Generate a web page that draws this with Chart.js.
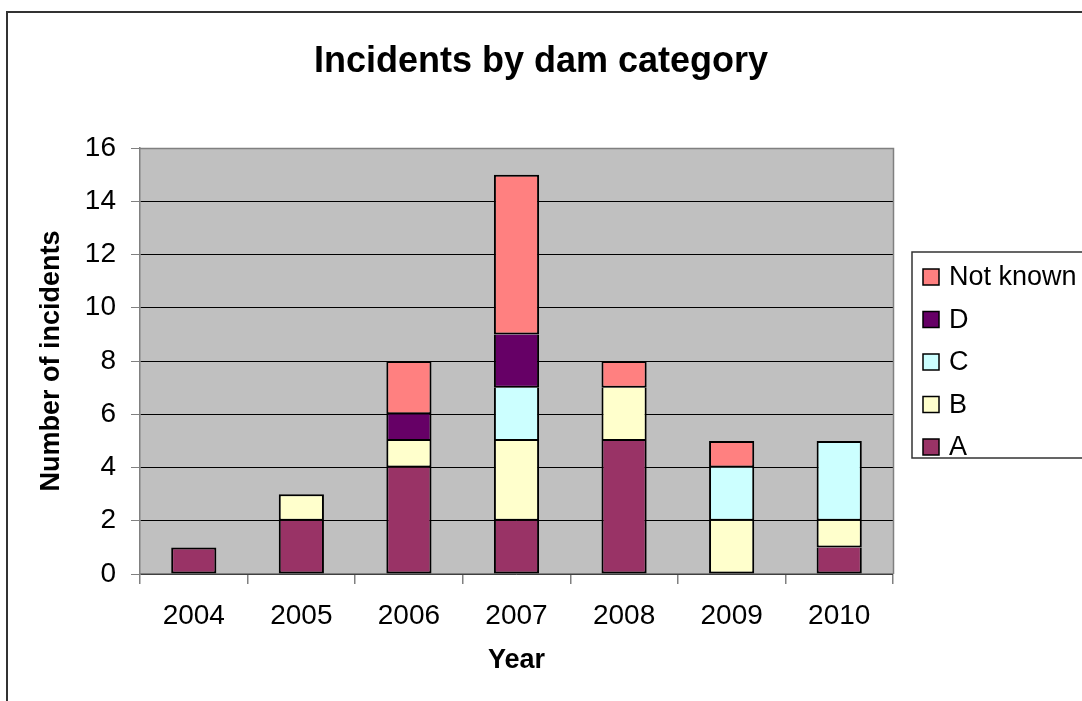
<!DOCTYPE html>
<html>
<head>
<meta charset="utf-8">
<title>Incidents by dam category</title>
<script src="https://cdn.jsdelivr.net/npm/chart.js@4/dist/chart.umd.min.js"></script>
<style>
  html, body { margin: 0; padding: 0; background: #fff; }
  canvas { display: block; }
</style>
</head>
<body>
<canvas id="chart" width="1082" height="701"></canvas>
<script>
// Years on the category axis
const years = ['2004', '2005', '2006', '2007', '2008', '2009', '2010'];

// Incident counts per dam category, one value per year
const catA = [1, 2, 4, 2, 5, 0, 1];
const catB = [0, 1, 1, 3, 2, 2, 1];
const catC = [0, 0, 0, 2, 0, 2, 3];
const catD = [0, 0, 1, 2, 0, 0, 0];
const notKnown = [0, 0, 2, 6, 1, 1, 0];

// Value axis ticks
const yTicks = [0, 2, 4, 6, 8, 10, 12, 14, 16];

const chartTitle = 'Incidents by dam category';

const FONT = "'Liberation Sans', Arial, Helvetica, sans-serif";
Chart.defaults.font.family = FONT;
Chart.defaults.color = '#000';

// Grey plot background, plot frame, page frame and centred title
const plotArea = {
  id: 'plotArea',
  beforeDraw(chart) {
    const { ctx, chartArea: a } = chart;
    ctx.save();
    ctx.fillStyle = '#fff';
    ctx.fillRect(0, 0, chart.width, chart.height);
    ctx.fillStyle = '#C0C0C0';
    ctx.fillRect(a.left, a.top, a.right - a.left, a.bottom - a.top);
    ctx.restore();
  },
  beforeDatasetsDraw(chart) {
    const { ctx, chartArea: a } = chart;
    ctx.save();
    ctx.strokeStyle = '#808080';
    ctx.lineWidth = 1.5;
    ctx.beginPath();
    ctx.moveTo(a.left, a.top + 0.5);
    ctx.lineTo(a.right + 0.5, a.top + 0.5);
    ctx.lineTo(a.right + 0.5, a.bottom);
    ctx.stroke();
    ctx.restore();
  },
  afterDraw(chart) {
    const { ctx } = chart;
    ctx.save();
    ctx.strokeStyle = '#333';
    ctx.lineWidth = 2;
    ctx.strokeRect(7, 12, chart.width + 20, chart.height + 20);
    ctx.fillStyle = '#000';
    ctx.font = 'bold 36px ' + FONT;
    ctx.textAlign = 'center';
    ctx.textBaseline = 'middle';
    ctx.fillText(chartTitle, chart.width / 2, 62);
    ctx.restore();
  }
};

// Boxed legend on the right, listed from top of stack to bottom
const boxLegend = {
  id: 'boxLegend',
  afterDraw(chart) {
    const { ctx } = chart;
    const x0 = 912, y0 = 252, y1 = 458;
    ctx.save();
    ctx.strokeStyle = '#333';
    ctx.lineWidth = 1.5;
    ctx.strokeRect(x0, y0, chart.width, y1 - y0);
    const items = chart.data.datasets.slice().reverse();
    ctx.font = '27px ' + FONT;
    ctx.textBaseline = 'middle';
    ctx.textAlign = 'left';
    items.forEach((ds, i) => {
      const cy = 277 + i * 42.5;
      ctx.fillStyle = ds.backgroundColor;
      ctx.fillRect(923, cy - 8, 16, 16);
      ctx.strokeStyle = '#000';
      ctx.lineWidth = 1.5;
      ctx.strokeRect(923, cy - 8, 16, 16);
      ctx.fillStyle = '#000';
      ctx.fillText(ds.label, 949, cy + 1);
    });
    ctx.restore();
  }
};

// A segment only draws its top edge when nothing is stacked above it,
// so shared edges between segments stay a single line.
function segmentBorder(ctx) {
  const sets = ctx.chart.data.datasets;
  const i = ctx.dataIndex;
  let above = false;
  for (let d = ctx.datasetIndex + 1; d < sets.length; d++) {
    if (sets[d].data[i]) { above = true; break; }
  }
  return { left: 2, right: 2, bottom: 2, top: above ? 0 : 2 };
}

// Empty stack segments are left out so they draw no border line
const mk = (label, data, color) => ({
  label,
  data: data.map(v => (v === 0 ? null : v)),
  backgroundColor: color,
  borderColor: '#000',
  borderWidth: segmentBorder,
  borderSkipped: false,
  barPercentage: 0.42,
  categoryPercentage: 1.0
});

new Chart(document.getElementById('chart'), {
  type: 'bar',
  data: {
    labels: years,
    datasets: [
      mk('A', catA, '#993366'),
      mk('B', catB, '#FFFFCC'),
      mk('C', catC, '#CCFFFF'),
      mk('D', catD, '#660066'),
      mk('Not known', notKnown, '#FF8080')
    ]
  },
  options: {
    responsive: false,
    animation: false,
    devicePixelRatio: 1,
    layout: { padding: { left: 35, right: 189, top: 148, bottom: 24 } },
    plugins: {
      legend: { display: false },
      tooltip: { enabled: false },
      title: { display: false }
    },
    scales: {
      x: {
        stacked: true,
        ticks: { color: '#000', font: { size: 28 }, padding: 15 },
        grid: { drawOnChartArea: false, offset: true, tickLength: 10, color: '#808080', lineWidth: 1.5 },
        border: { color: '#808080', width: 1.5 },
        title: {
          display: true, text: 'Year', color: '#000',
          font: { size: 27, weight: 'bold' }, padding: { top: 0, bottom: 0 }
        },
        afterFit(s) { s.height = 103; }
      },
      y: {
        stacked: true,
        min: 0,
        max: 16,
        afterBuildTicks(s) { s.ticks = yTicks.map(v => ({ value: v })); },
        ticks: { color: '#000', font: { size: 28 }, padding: 15 },
        grid: { color: '#000', lineWidth: 1, tickLength: 9, tickColor: '#808080' },
        border: { color: '#808080', width: 1.5 },
        title: {
          display: true, text: 'Number of incidents', color: '#000',
          font: { size: 27, weight: 'bold' }, padding: { top: 0, bottom: 0 }
        },
        afterFit(s) { s.width = 105; }
      }
    }
  },
  plugins: [plotArea, boxLegend]
});
</script>
</body>
</html>
